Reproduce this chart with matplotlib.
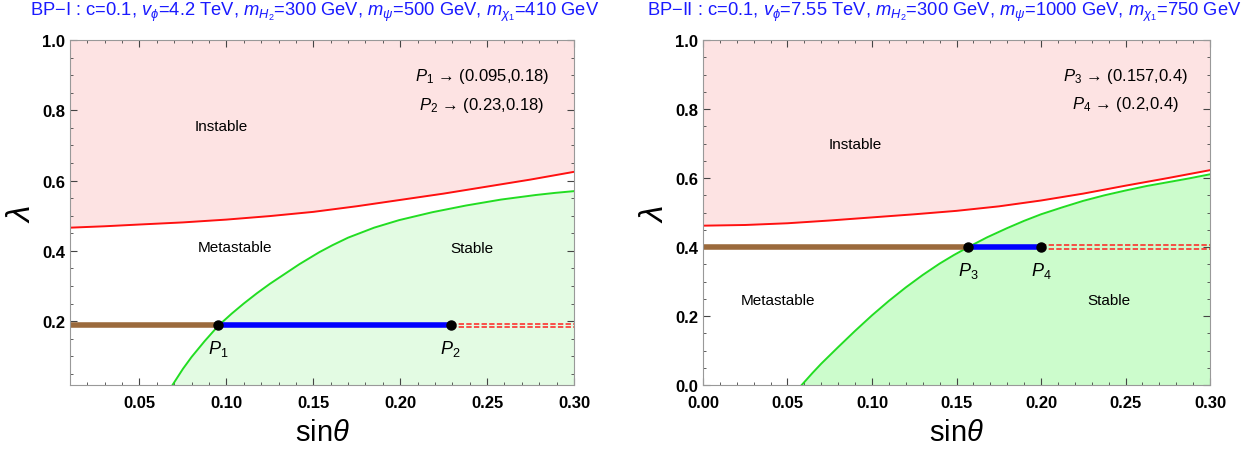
import matplotlib
matplotlib.use("Agg")
import matplotlib.pyplot as plt
from matplotlib.ticker import MultipleLocator, FormatStrFormatter

plt.rcParams['font.family'] = ['Liberation Sans', 'DejaVu Sans']
plt.rcParams['mathtext.fontset'] = 'custom'
plt.rcParams['mathtext.rm'] = 'Liberation Sans'
plt.rcParams['mathtext.it'] = 'Liberation Sans:italic'
plt.rcParams['mathtext.bf'] = 'Liberation Sans:bold'

# ---- BP-I ----
title1 = r"BP$-$I : c=0.1, $v_\phi$=4.2 TeV, $m_{H_2}$=300 GeV, $m_\psi$=500 GeV, $m_{\chi_1}$=410 GeV"
red1_x = [0.01, 0.03, 0.05, 0.075, 0.10, 0.125, 0.15, 0.175, 0.20, 0.225, 0.25, 0.275, 0.30]
red1_y = [0.466, 0.470, 0.475, 0.481, 0.489, 0.499, 0.511, 0.527, 0.545, 0.563, 0.583, 0.603, 0.625]
green1_x = [0.069, 0.075, 0.08, 0.0875, 0.0954, 0.103, 0.11, 0.1175, 0.125, 0.1335, 0.142,
            0.1534, 0.161, 0.17, 0.185, 0.1994, 0.2185, 0.2378, 0.258, 0.278, 0.289, 0.30]
green1_y = [0.018, 0.064, 0.098, 0.143, 0.187, 0.221, 0.250, 0.279, 0.306, 0.334, 0.362,
            0.396, 0.416, 0.4375, 0.466, 0.4875, 0.510, 0.529, 0.546, 0.559, 0.565, 0.570]
lam1 = 0.188
pts1 = [0.0954, 0.229]
labels1 = [r"$P_1$", r"$P_2$"]
info1 = [r"$P_1$ → (0.095,0.18)", r"$P_2$ → (0.23,0.18)"]

# ---- BP-II ----
title2 = r"BP$-$II : c=0.1, $v_\phi$=7.55 TeV, $m_{H_2}$=300 GeV, $m_\psi$=1000 GeV, $m_{\chi_1}$=750 GeV"
red2_x = [0.0, 0.025, 0.05, 0.075, 0.10, 0.125, 0.15, 0.175, 0.20, 0.225, 0.25, 0.275, 0.30]
red2_y = [0.462, 0.464, 0.469, 0.477, 0.486, 0.495, 0.505, 0.518, 0.535, 0.555, 0.578, 0.600, 0.623]
green2_x = [0.0584, 0.065, 0.07, 0.08, 0.09, 0.10, 0.11, 0.12, 0.13, 0.14, 0.1485, 0.157,
            0.168, 0.18, 0.19, 0.20, 0.2125, 0.225, 0.2375, 0.25, 0.2625, 0.275, 0.2875, 0.30]
green2_y = [0.0, 0.036, 0.062, 0.110, 0.157, 0.202, 0.244, 0.283, 0.319, 0.352, 0.377, 0.400,
            0.428, 0.455, 0.476, 0.495, 0.515, 0.534, 0.550, 0.564, 0.577, 0.588, 0.599, 0.611]
lam2 = 0.40
pts2 = [0.157, 0.20]
labels2 = [r"$P_3$", r"$P_4$"]
info2 = [r"$P_3$ → (0.157,0.4)", r"$P_4$ → (0.2,0.4)"]

fig = plt.figure(figsize=(12.56, 4.52), dpi=100)
ax1 = fig.add_axes([0.0557, 0.146, 0.4013, 0.763])
ax2 = fig.add_axes([0.5597, 0.146, 0.4037, 0.763])


def panel(ax, xlim, ylim, rx, ry, gx, gy, lam, pts, labs, info, title, title_x,
          green_fill, txt, xticks):
    ax.set_xlim(*xlim)
    ax.set_ylim(*ylim)
    ax.fill_between(rx, ry, 1.0, color='#fde3e3', lw=0)
    ax.fill_between(gx, ylim[0], gy, color=green_fill, lw=0)
    ax.plot(rx, ry, color='#ff1010', lw=1.4)
    ax.plot(gx, gy, color='#22dd22', lw=1.4)

    ax.plot([xlim[0], pts[0]], [lam, lam], color='#9b6a3c', lw=4, solid_capstyle='butt')
    ax.plot(pts, [lam, lam], color='#0000ff', lw=4, solid_capstyle='butt')
    for d in (-0.005, 0.005):
        ax.plot([pts[1], xlim[1]], [lam + d, lam + d], color='#ff2020', lw=1.1,
                dashes=(3.5, 1.5))
    ax.plot(pts, [lam, lam], 'o', color='black', ms=6.5)
    for p, l in zip(pts, labs):
        ax.annotate(l, (p, lam), xytext=(0, -9), textcoords='offset points',
                    ha='center', va='top', fontsize=13)

    ax.text(txt[0][0], txt[0][1], "Instable", ha='center', va='center', fontsize=11)
    ax.text(txt[1][0], txt[1][1], "Metastable", ha='center', va='center', fontsize=11)
    ax.text(txt[2][0], txt[2][1], "Stable", ha='center', va='center', fontsize=11)
    ax.text(txt[3][0], txt[3][1], info[0], ha='center', va='center', fontsize=12)
    ax.text(txt[3][0], txt[3][1] - 0.08, info[1], ha='center', va='center', fontsize=12)

    fig.text(title_x, 0.972, title, color='#1a1aff', fontsize=13.2,
             ha='center', va='center')
    ax.set_xlabel(r"sin$\mathit{\theta}$", fontsize=21, labelpad=6)
    ax.set_ylabel(r"$\lambda$", fontsize=24, labelpad=4)

    ax.set_xticks(xticks)
    ax.xaxis.set_major_formatter(FormatStrFormatter('%.2f'))
    ax.xaxis.set_minor_locator(MultipleLocator(0.01))
    ax.yaxis.set_major_locator(MultipleLocator(0.2))
    ax.yaxis.set_minor_locator(MultipleLocator(0.05))
    ax.yaxis.set_major_formatter(FormatStrFormatter('%.1f'))
    ax.tick_params(which='both', direction='in', top=True, right=True, color='#444444')
    ax.tick_params(which='major', length=5, labelsize=12)
    ax.tick_params(which='minor', length=2.5)
    ax.tick_params(axis='x', which='major', pad=7)
    for lab in ax.get_xticklabels() + ax.get_yticklabels():
        lab.set_fontweight('bold')
    for s in ax.spines.values():
        s.set_color('#999999')


panel(ax1, (0.01, 0.30), (0.018, 1.0), red1_x, red1_y, green1_x, green1_y, lam1,
      pts1, labels1, info1, title1, 315 / 1256, '#e3fbe3',
      [(0.097, 0.755), (0.105, 0.41), (0.241, 0.408), (0.247, 0.898)],
      [0.05, 0.10, 0.15, 0.20, 0.25, 0.30])
ax1.set_yticks([0.2, 0.4, 0.6, 0.8, 1.0])

panel(ax2, (0.0, 0.30), (0.0, 1.0), red2_x, red2_y, green2_x, green2_y, lam2,
      pts2, labels2, info2, title2, 944 / 1256, '#ccfccc',
      [(0.090, 0.70), (0.0446, 0.247), (0.240, 0.247), (0.2497, 0.896)],
      [0.0, 0.05, 0.10, 0.15, 0.20, 0.25, 0.30])

fig.savefig("out.png", dpi=100)
